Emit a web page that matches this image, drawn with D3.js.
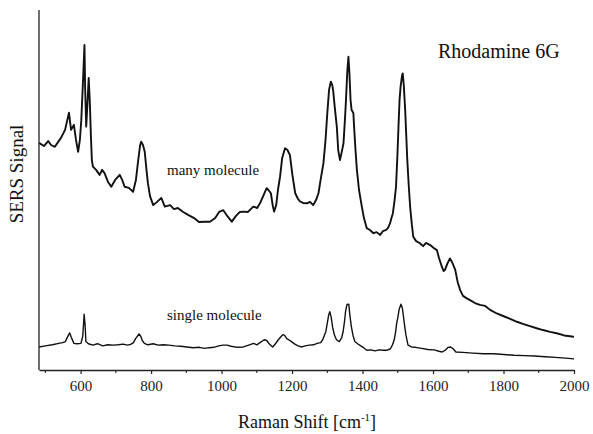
<!DOCTYPE html>
<html>
<head>
<meta charset="utf-8">
<script src="https://cdn.jsdelivr.net/npm/d3@7"></script>
<style>
  html, body { margin: 0; padding: 0; background: #fff; }
  svg { display: block; }
</style>
</head>
<body>
<svg id="chart" width="593" height="434"></svg>
<script>
// Raman shift (cm^-1) and SERS intensity (arb. units) for the ensemble spectrum
const shiftMany = [482,496,508,516,527,536,544,556,567,573,581,587,593,598,602,607,611,613,616,620,623,626,629,632,635,644,654,661,668,678,687,698,711,718,725,737,749,757,763,769,772,777,782,787,791,797,806,817,829,839,854,865,876,891,905,922,936,952,967,982,993,1005,1016,1029,1041,1052,1062,1075,1090,1101,1109,1118,1128,1133,1140,1145,1149,1155,1160,1166,1172,1180,1187,1194,1201,1209,1217,1223,1231,1242,1251,1260,1268,1275,1281,1289,1295,1300,1305,1310,1314,1317,1322,1327,1331,1336,1341,1346,1350,1353,1357,1360,1363,1366,1369,1374,1376,1380,1384,1390,1398,1404,1412,1421,1431,1440,1450,1458,1467,1472,1478,1482,1486,1491,1495,1499,1502,1505,1508,1512,1514,1517,1521,1524,1527,1531,1535,1540,1544,1552,1563,1572,1580,1592,1602,1611,1617,1625,1630,1634,1640,1648,1654,1663,1670,1677,1685,1696,1705,1719,1733,1748,1762,1781,1799,1819,1838,1855,1875,1894,1912,1932,1951,1972,1994,2000];
const signalMany = [63.1,62.2,63.6,62.5,62.0,63.3,64.4,66.7,71.5,66.7,68.1,63.9,60.6,63.9,69.4,80.6,90.3,77.8,67.6,75.0,81.1,75.0,65.8,58.3,56.5,55.6,54.2,55.6,54.7,52.2,50.9,52.8,54.2,52.8,50.9,50.6,49.5,52.8,57.9,62.5,63.4,62.5,60.6,55.6,51.9,48.3,45.8,46.7,47.8,45.4,45.8,44.7,45.0,43.9,43.1,42.2,41.1,41.2,41.2,42.2,43.9,44.4,42.8,41.2,42.8,43.9,44.0,43.9,45.4,45.0,46.3,48.3,50.5,50.0,49.1,45.8,44.0,45.8,50.0,53.7,58.9,61.6,61.1,59.7,54.2,49.1,47.5,46.8,46.4,46.3,46.7,45.8,47.2,49.1,52.8,57.4,63.9,71.3,77.8,80.1,79.2,77.3,72.2,67.6,61.1,58.3,60.6,63.0,69.4,75.0,83.3,87.0,82.0,75.0,72.2,71.4,67.6,61.1,55.6,50.0,45.4,42.2,39.4,38.9,38.0,38.3,37.5,38.6,38.9,39.4,40.7,42.2,43.5,47.2,50.9,59.7,67.6,75.0,78.7,81.7,82.4,79.2,72.2,65.3,58.3,51.4,45.4,40.3,37.0,35.8,35.2,34.4,35.3,34.7,33.9,33.3,31.1,28.7,27.5,27.8,29.4,31.0,30.0,27.8,24.4,22.2,20.6,19.9,19.4,18.6,18.1,17.8,16.7,15.7,15.0,14.2,13.4,12.8,12.2,11.6,11.1,10.6,10.2,9.6,9.3,9.2];

// Raman shift (cm^-1) and SERS intensity (arb. units) for the single-molecule spectrum
const shiftSingle = [482,500,520,538,549,557,562,569,574,581,590,601,606,609,610,613,615,622,635,648,663,677,693,707,721,733,742,750,756,766,771,775,781,791,806,820,835,850,868,884,902,919,937,952,965,978,992,1004,1016,1027,1045,1062,1077,1091,1100,1109,1121,1128,1135,1145,1153,1161,1169,1174,1179,1185,1191,1198,1208,1217,1228,1237,1249,1261,1271,1281,1287,1293,1296,1300,1304,1307,1311,1315,1320,1326,1334,1341,1345,1349,1352,1356,1361,1364,1368,1373,1378,1386,1395,1403,1412,1424,1435,1447,1459,1470,1479,1485,1490,1494,1497,1500,1504,1509,1513,1516,1519,1523,1529,1539,1550,1568,1585,1603,1617,1626,1636,1643,1650,1657,1665,1684,1713,1743,1772,1801,1830,1859,1888,1918,1947,1976,2000];
const signalSingle = [6.4,6.7,7.0,7.4,7.6,7.9,9.0,10.3,9.0,7.4,7.3,7.4,9.3,13.6,15.5,12.2,7.9,7.3,6.9,7.3,6.7,7.0,6.9,7.0,7.2,6.9,7.1,7.6,8.7,10.0,9.3,8.2,7.4,7.0,7.3,6.9,7.0,6.9,6.7,6.6,6.4,6.2,6.3,6.0,6.2,6.3,6.7,6.9,6.9,6.6,6.3,6.4,6.9,7.4,7.0,7.6,8.4,8.2,7.3,6.4,7.3,8.4,9.3,9.8,9.6,8.7,8.4,7.9,7.2,6.7,6.4,6.7,6.9,7.0,7.4,7.6,8.4,9.9,10.7,13.0,15.3,16.2,14.7,11.9,9.8,8.4,7.9,9.0,10.7,13.6,16.4,18.2,18.3,15.3,12.2,9.6,7.9,7.3,6.7,6.2,5.5,5.6,5.3,5.6,5.5,5.5,5.9,7.0,8.4,10.7,13.1,14.5,16.9,18.3,17.2,15.0,12.6,9.8,6.9,6.4,6.3,6.0,5.7,5.6,5.2,5.0,5.6,6.3,6.4,5.9,5.0,4.9,4.7,4.5,4.5,4.3,4.1,4.0,3.9,3.7,3.5,3.3,3.1];

const majorTicks = [600, 800, 1000, 1200, 1400, 1600, 1800, 2000];
const minorTicks = [500, 700, 900, 1100, 1300, 1500, 1700, 1900];

const xTitle = "Raman Shift [cm";
const xTitleSup = "-1";
const yTitle = "SERS Signal";
const chartTitle = "Rhodamine 6G";
const labelMany = "many molecule";
const labelSingle = "single molecule";

const serif = "'Times New Roman', 'Liberation Serif', 'DejaVu Serif', serif";

const svg = d3.select("#chart");
const plot = { left: 39, right: 574, top: 10, bottom: 370 };

const x = d3.scaleLinear().domain([482, 2000]).range([plot.left, plot.right]);
const y = d3.scaleLinear().domain([0, 100]).range([plot.bottom, plot.top]);

// spectra
const line = d3.line().x(d => x(d[0])).y(d => y(d[1]));
const many = shiftMany.map((s, i) => [s, signalMany[i]]);
const single = shiftSingle.map((s, i) => [s, signalSingle[i]]);

svg.append("path").datum(many).attr("d", line)
  .attr("fill", "none").attr("stroke", "#111").attr("stroke-width", 1.9).attr("stroke-linejoin", "round");
svg.append("path").datum(single).attr("d", line)
  .attr("fill", "none").attr("stroke", "#111").attr("stroke-width", 1.4).attr("stroke-linejoin", "round");

// x axis: major ticks with labels, unlabeled minor ticks
const xAxis = svg.append("g").attr("transform", `translate(0,${plot.bottom})`)
  .call(d3.axisBottom(x).tickValues(majorTicks).tickSize(4).tickSizeOuter(0).tickPadding(6).tickFormat(d3.format("d")));
xAxis.attr("font-family", serif).attr("font-size", 15);
xAxis.select(".domain").attr("stroke", "#222").attr("stroke-width", 1.3);
xAxis.selectAll(".tick line").attr("stroke", "#222").attr("stroke-width", 1.2);
xAxis.selectAll(".tick text").style("font-family", serif).attr("fill", "#222");

svg.append("g").attr("transform", `translate(0,${plot.bottom})`)
  .selectAll("line").data(minorTicks).join("line")
  .attr("x1", d => x(d)).attr("x2", d => x(d)).attr("y1", 0).attr("y2", 3)
  .attr("stroke", "#222").attr("stroke-width", 1.1);

// y axis line only (arbitrary units)
svg.append("line")
  .attr("x1", plot.left).attr("x2", plot.left).attr("y1", plot.top).attr("y2", plot.bottom)
  .attr("stroke", "#222").attr("stroke-width", 1.3);

// titles and annotations
const labels = svg.append("g").style("font-family", serif).attr("fill", "#111");

const xt = labels.append("text").attr("x", 307).attr("y", 428).attr("text-anchor", "middle")
  .attr("font-size", 18);
xt.append("tspan").text(xTitle);
xt.append("tspan").attr("font-size", 11).attr("dy", -7).text(xTitleSup);
xt.append("tspan").attr("dy", 7).text("]");

labels.append("text").attr("transform", "translate(23,174) rotate(-90)")
  .attr("text-anchor", "middle").attr("font-size", 19).text(yTitle);

labels.append("text").attr("x", 438).attr("y", 58).attr("font-size", 20).text(chartTitle);
labels.append("text").attr("x", 167).attr("y", 175).attr("font-size", 15).text(labelMany);
labels.append("text").attr("x", 167).attr("y", 320).attr("font-size", 15).text(labelSingle);
</script>
</body>
</html>
